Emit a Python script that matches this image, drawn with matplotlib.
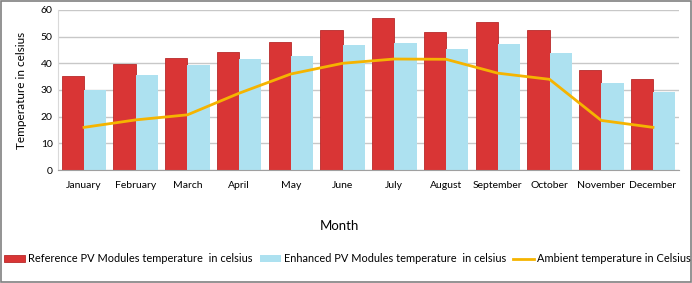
import matplotlib
matplotlib.use('Agg')
import matplotlib.pyplot as plt
import numpy as np

plt.rcParams['font.family'] = ['Lato', 'DejaVu Sans']

months = ['January', 'February', 'March', 'April', 'May', 'June', 'July',
          'August', 'September', 'October', 'November', 'December']
reference = [35.1, 39.8, 41.8, 44.1, 47.8, 52.3, 56.9, 51.9, 55.4, 52.4, 37.4, 34.1]
enhanced = [30.0, 35.7, 39.2, 41.6, 42.8, 46.8, 47.7, 45.3, 47.4, 43.8, 32.8, 29.3]
ambient = [16.0, 18.8, 20.7, 28.8, 36.0, 40.0, 41.6, 41.5, 36.3, 34.0, 18.6, 16.0]

fig = plt.figure(figsize=(6.92, 2.83), dpi=100)
ax = fig.add_axes([0.084, 0.399, 0.897, 0.566])

x = np.arange(len(months))
w = 0.43
b1 = ax.bar(x - w / 2, reference, w, color='#D93535', edgecolor='#B82A2A', linewidth=0.6,
            label='Reference PV Modules temperature  in celsius', zorder=2)
b2 = ax.bar(x + w / 2, enhanced, w, color='#ADE1F0', linewidth=0,
            label='Enhanced PV Modules temperature  in celsius', zorder=2)
l1, = ax.plot(x, ambient, color='#F5B400', linewidth=2,
              label='Ambient temperature in Celsius', zorder=3)

ax.set_xlim(-0.5, len(months) - 0.5)
ax.set_ylim(0, 60)
ax.set_yticks(range(0, 61, 10))
ax.set_xticks(x)
ax.set_xticklabels(months)
ax.tick_params(length=0, labelsize=7.5, pad=8)
ax.tick_params(axis='y', pad=4)
ax.yaxis.grid(True, color='#C8C8C8', linewidth=1)
ax.set_axisbelow(True)
for s in ['top', 'right']:
    ax.spines[s].set_visible(False)
ax.spines['left'].set_color('#D9D9D9')
ax.spines['bottom'].set_color('#A0A0A0')

ax.set_ylabel('Temperature in celsius', fontsize=8.5, labelpad=10)
fig.text(0.49, 0.2, 'Month', ha='center', va='center', fontsize=9.5)

fig.legend(handles=[b1, b2, l1], loc='center', bbox_to_anchor=(0.502, 0.085), ncol=3,
           frameon=False, fontsize=7.95, handlelength=1.9, handleheight=0.6,
           handletextpad=0.25, columnspacing=0.7, borderpad=0, borderaxespad=0)

fig.patches.append(plt.Rectangle((0.001, 0.002), 0.997, 0.995, transform=fig.transFigure,
                                 fill=False, edgecolor='#808080', linewidth=1.2))

fig.savefig('out.png', dpi=100)
